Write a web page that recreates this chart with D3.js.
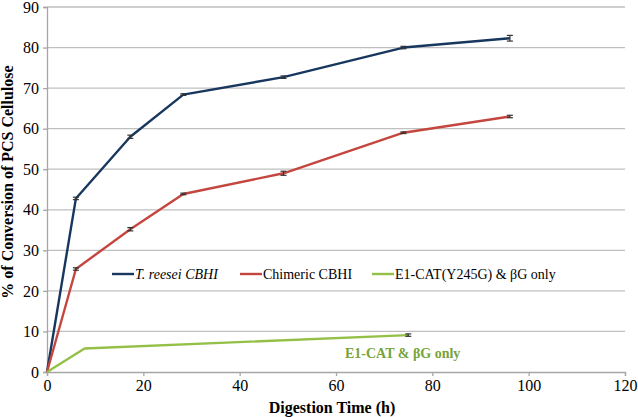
<!DOCTYPE html>
<html>
<head>
<meta charset="utf-8">
<script src="https://cdn.jsdelivr.net/npm/d3@7"></script>
<style>
  body { margin: 0; background: #fff; }
  svg text { font-family: "Liberation Serif", "Times New Roman", Times, serif; }
</style>
</head>
<body>
<svg id="chart" width="638" height="417"></svg>
<script>
'use strict';

// digestion time (h) and % conversion
const reeseiTime = [0, 6, 17.3, 28.3, 49.1, 74, 96.1];
const reeseiConv = [0, 42.8, 58.0, 68.4, 72.7, 80.0, 82.3];
const reeseiErr = [0, 0.3, 0.4, 0.2, 0.3, 0.3, 0.7];

const chimericTime = [0, 6, 17.3, 28.3, 49.1, 74, 96.1];
const chimericConv = [0, 25.4, 35.2, 43.9, 49.0, 59.0, 63.0];
const chimericErr = [0, 0.3, 0.4, 0.2, 0.5, 0.2, 0.3];

const e1catTime = [0, 7.8, 75];
const e1catConv = [0, 5.8, 9.1];
const e1catErr = [0, 0, 0.3];

const seriesNames = ['T. reesei CBHI', 'Chimeric CBHI', 'E1-CAT(Y245G) & \u03b2G only'];
const seriesColors = ['#17375e', '#c4463f', '#94c047'];
const xTicks = [0, 20, 40, 60, 80, 100, 120];
const yTicks = [0, 10, 20, 30, 40, 50, 60, 70, 80, 90];

const serif = '"Liberation Serif", "Times New Roman", Times, serif';
const margin = {top: 7, right: 13, bottom: 45, left: 47};
const width = 638 - margin.left - margin.right;
const height = 417 - margin.top - margin.bottom;

const svg = d3.select('#chart');
const g = svg.append('g')
  .attr('transform', 'translate(' + margin.left + ',' + margin.top + ')');

const x = d3.scaleLinear().domain([0, 120]).range([0, width]);
const y = d3.scaleLinear().domain([0, 90]).range([height, 0]);

// gridlines
g.selectAll('line.grid')
  .data(yTicks.slice(1))
  .enter()
  .append('line')
  .attr('class', 'grid')
  .attr('x1', 0)
  .attr('x2', width)
  .attr('y1', d => y(d))
  .attr('y2', d => y(d))
  .style('stroke', '#bfbfbf')
  .style('stroke-width', 1.3);

// axes
const yAxis = g.append('g')
  .call(d3.axisLeft(y).tickValues(yTicks).tickSize(4).tickPadding(4));
const xAxis = g.append('g')
  .attr('transform', 'translate(0,' + height + ')')
  .call(d3.axisBottom(x).tickValues(xTicks).tickSize(4).tickPadding(4));

[xAxis, yAxis].forEach(function(ax) {
  ax.attr('font-family', serif).attr('font-size', 16);
  ax.select('.domain').style('stroke', '#a6a6a6').style('stroke-width', 1.3);
  ax.selectAll('.tick line').style('stroke', '#a6a6a6').style('stroke-width', 1.3);
  ax.selectAll('.tick text')
    .attr('font-family', serif)
    .style('font-size', '16px')
    .style('fill', '#000');
});

// axis titles
svg.append('text')
  .attr('x', margin.left + width / 2 - 4)
  .attr('y', 413)
  .attr('text-anchor', 'middle')
  .attr('font-family', serif)
  .style('font-size', '16px')
  .style('font-weight', 'bold')
  .text('Digestion Time (h)');

svg.append('text')
  .attr('transform', 'translate(13,182) rotate(-90)')
  .attr('text-anchor', 'middle')
  .attr('font-family', serif)
  .style('font-size', '16px')
  .style('font-weight', 'bold')
  .text('% of Conversion of PCS Cellulose');

// series
const series = [
  {time: reeseiTime, conv: reeseiConv, err: reeseiErr},
  {time: chimericTime, conv: chimericConv, err: chimericErr},
  {time: e1catTime, conv: e1catConv, err: e1catErr}
].map(function(s, i) {
  return {
    name: seriesNames[i],
    color: seriesColors[i],
    points: s.time.map((t, j) => ({t: t, v: s.conv[j], e: s.err[j]}))
  };
});

const line = d3.line().x(d => x(d.t)).y(d => y(d.v));

g.selectAll('path.series')
  .data(series)
  .enter()
  .append('path')
  .attr('class', 'series')
  .attr('d', d => line(d.points))
  .style('fill', 'none')
  .style('stroke', d => d.color)
  .style('stroke-width', 2.4)
  .style('stroke-linejoin', 'round');

// error bars
const bars = series.flatMap(s => s.points.filter(p => p.e > 0));
const capW = 3;
const errG = g.selectAll('g.err')
  .data(bars)
  .enter()
  .append('g')
  .attr('class', 'err')
  .style('stroke', '#333')
  .style('stroke-width', 1.2);
errG.append('line')
  .attr('x1', d => x(d.t)).attr('x2', d => x(d.t))
  .attr('y1', d => y(d.v - d.e)).attr('y2', d => y(d.v + d.e));
errG.append('line')
  .attr('x1', d => x(d.t) - capW).attr('x2', d => x(d.t) + capW)
  .attr('y1', d => y(d.v - d.e)).attr('y2', d => y(d.v - d.e));
errG.append('line')
  .attr('x1', d => x(d.t) - capW).attr('x2', d => x(d.t) + capW)
  .attr('y1', d => y(d.v + d.e)).attr('y2', d => y(d.v + d.e));

// legend
const legendX = [112, 240, 372];
const legendY = 274;
const legend = svg.selectAll('g.legend')
  .data(series)
  .enter()
  .append('g')
  .attr('class', 'legend')
  .attr('transform', (d, i) => 'translate(' + legendX[i] + ',' + legendY + ')');
legend.append('line')
  .attr('x1', 0).attr('x2', 22)
  .style('stroke', d => d.color)
  .style('stroke-width', 2.4);
legend.append('text')
  .attr('x', 23)
  .attr('y', 5)
  .attr('font-family', serif)
  .style('font-size', '14px')
  .style('font-style', (d, i) => i === 0 ? 'italic' : 'normal')
  .text(d => d.name);

// annotation
svg.append('text')
  .attr('x', 345)
  .attr('y', 358)
  .attr('font-family', serif)
  .style('font-size', '14px')
  .style('font-weight', 'bold')
  .style('fill', '#77a33a')
  .text('E1-CAT & \u03b2G only');
</script>
</body>
</html>
